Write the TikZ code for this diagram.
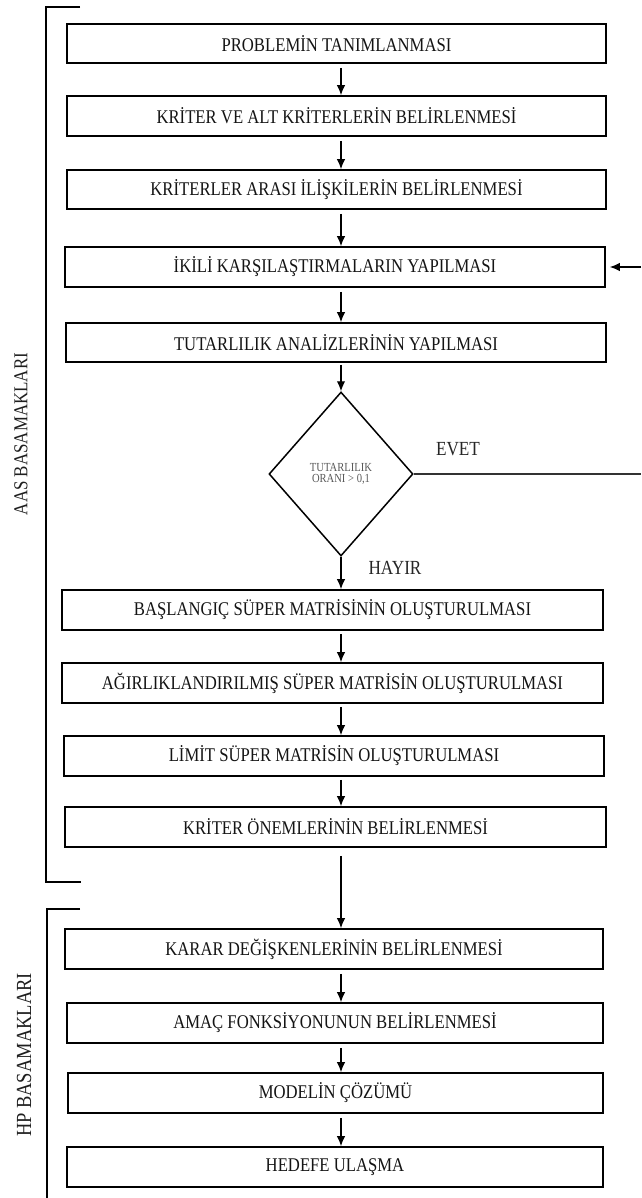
\documentclass[tikz,border=0pt]{standalone}
\usepackage{fontspec}
\setmainfont{Liberation Serif}
\newfontfamily\condfont[FakeStretch=0.86]{Liberation Serif}
\usetikzlibrary{shapes.geometric,arrows.meta}
\begin{document}
\begin{tikzpicture}[x=1pt,y=-1pt,
  box/.style={draw=black, line width=1.6pt, minimum height=40pt, inner sep=0pt,
    font=\condfont\fontsize{19.4}{20}\selectfont, text=black!92},
  arr/.style={-{Latex[length=10pt,width=8.5pt]}, line width=1.3pt},
  brk/.style={line width=2.5pt},
  side/.style={rotate=90, text=black!88},
  yn/.style={font=\condfont\fontsize{20}{21}\selectfont, text=black!85}]
\useasboundingbox[fill=white] (0,0) rectangle (641,1198);

% AAS boxes
\node[box, minimum width=539pt, minimum height=39pt] (b1) at (336.5,43.5) {PROBLEMİN TANIMLANMASI};
\node[box, minimum width=539pt] (b2) at (336.5,116) {KRİTER VE ALT KRİTERLERİN BELİRLENMESİ};
\node[box, minimum width=539pt, minimum height=39pt] (b3) at (336.5,189.5) {KRİTERLER ARASI İLİŞKİLERİN BELİRLENMESİ};
\node[box, minimum width=540pt] (b4) at (335,267) {İKİLİ KARŞILAŞTIRMALARIN YAPILMASI};
\node[box, minimum width=540pt, minimum height=39pt] (b5) at (336,342.5) {TUTARLILIK ANALİZLERİNİN YAPILMASI};

\node[diamond, draw=black, line width=1.5pt, minimum width=144pt, minimum height=164pt,
  inner sep=0pt, align=center, text=black!65,
  font=\condfont\fontsize{12.3}{10.5}\selectfont] (d) at (341,474) {TUTARLILIK\\ORANI > 0,1};

\node[box, minimum width=541pt] (b6) at (332.5,610) {BAŞLANGIÇ SÜPER MATRİSİNİN OLUŞTURULMASI};
\node[box, minimum width=541pt] (b7) at (332.5,683) {AĞIRLIKLANDIRILMIŞ SÜPER MATRİSİN OLUŞTURULMASI};
\node[box, minimum width=540pt] (b8) at (334,756) {LİMİT SÜPER MATRİSİN OLUŞTURULMASI};
\node[box, minimum width=541pt] (b9) at (335.5,827) {KRİTER ÖNEMLERİNİN BELİRLENMESİ};

% HP boxes
\node[box, minimum width=538pt] (b10) at (334,949) {KARAR DEĞİŞKENLERİNİN BELİRLENMESİ};
\node[box, minimum width=536pt] (b11) at (335,1023) {AMAÇ FONKSİYONUNUN BELİRLENMESİ};
\node[box, minimum width=535pt] (b12) at (335.5,1093) {MODELİN ÇÖZÜMÜ};
\node[box, minimum width=536pt] (b13) at (335,1167) {HEDEFE ULAŞMA};

% connectors
\draw[arr, shorten <=4pt] (b1.south -| d) -- (b2.north -| d);
\draw[arr, shorten <=4pt] (b2.south -| d) -- (b3.north -| d);
\draw[arr, shorten <=4pt] (b3.south -| d) -- (b4.north -| d);
\draw[arr, shorten <=4pt] (b4.south -| d) -- (b5.north -| d);
\draw[arr, shorten <=2pt] (b5.south -| d) -- (d.north);
\draw[arr] (d.south) -- (b6.north -| d);
\draw[arr, shorten <=3pt] (b6.south -| d) -- (b7.north -| d);
\draw[arr, shorten <=3pt] (b7.south -| d) -- (b8.north -| d);
\draw[arr, shorten <=3pt] (b8.south -| d) -- (b9.north -| d);
\draw[arr, shorten <=8pt] (b9.south -| d) -- (b10.north -| d);
\draw[arr, shorten <=4pt] (b10.south -| d) -- (b11.north -| d);
\draw[arr, shorten <=4pt] (b11.south -| d) -- (b12.north -| d);
\draw[arr, shorten <=4pt] (b12.south -| d) -- (b13.north -| d);

% EVET loop ends
\coordinate (evetEnd) at (641,474);
\draw[line width=1.3pt, black!80] (d.east) -- (evetEnd);
\coordinate (fbStart) at (641,267);
\draw[arr, shorten >=4pt] (fbStart) -- (b4.east);

\node[yn] (evet) at (458,449) {EVET};
\node[yn] (hayir) at (395,568) {HAYIR};

% brackets
\coordinate (a1) at (80,7);
\coordinate (a2) at (46,7);
\coordinate (a3) at (46,882);
\coordinate (a4) at (81,882);
\draw[brk] (a1) -- (a2) -- (a3) -- (a4);
\coordinate (h1) at (80,909);
\coordinate (h2) at (47,909);
\coordinate (h3) at (47,1198);
\draw[brk] (h1) -- (h2) -- (h3);

\node[side, font=\condfont\fontsize{19.7}{20}\selectfont] (aas) at (21,434) {AAS BASAMAKLARI};
\node[side, font=\condfont\fontsize{21.5}{22}\selectfont] (hp) at (24,1055) {HP BASAMAKLARI};
\end{tikzpicture}
\end{document}
